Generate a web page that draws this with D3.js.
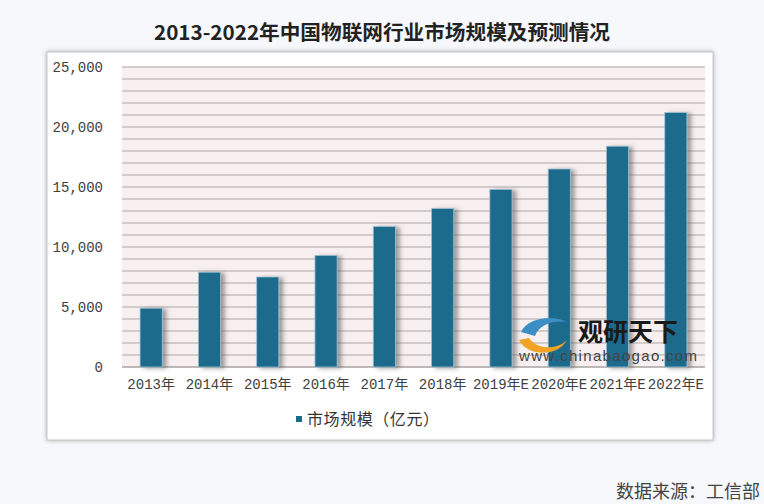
<!DOCTYPE html>
<html>
<head>
<meta charset="utf-8">
<script src="https://cdn.jsdelivr.net/npm/d3@7"></script>
<style>
  html, body { margin: 0; padding: 0; background: #f6f8fb; }
  svg { display: block; }
</style>
</head>
<body>
<div id="chart"></div>
<script>
// Data
const years = ["2013年", "2014年", "2015年", "2016年", "2017年", "2018年", "2019年E", "2020年E", "2021年E", "2022年E"];
const marketSize = [4900, 7900, 7500, 9300, 11700, 13200, 14800, 16500, 18400, 21200];
const yTicks = [0, 5000, 10000, 15000, 20000, 25000];

const W = 764, H = 504;
const margin = { top: 67, right: 59, bottom: 137, left: 122 };
const width = W - margin.left - margin.right;
const height = H - margin.top - margin.bottom;

const svg = d3.select("#chart")
    .append("svg")
    .attr("width", W)
    .attr("height", H);

const defs = svg.append("defs");

// box shadow
const boxShadow = defs.append("filter").attr("id", "boxShadow")
    .attr("x", "-5%").attr("y", "-5%").attr("width", "110%").attr("height", "110%");
boxShadow.append("feDropShadow")
    .attr("dx", 0).attr("dy", 0).attr("stdDeviation", 2)
    .attr("flood-color", "#888").attr("flood-opacity", 0.7);

// bar shadow
const barShadow = defs.append("filter").attr("id", "barShadow")
    .attr("x", "-30%").attr("y", "-10%").attr("width", "180%").attr("height", "120%");
barShadow.append("feDropShadow")
    .attr("dx", 4).attr("dy", 1).attr("stdDeviation", 2)
    .attr("flood-color", "#555").attr("flood-opacity", 0.55);

// Title
svg.append("text")
    .attr("x", 382)
    .attr("y", 40)
    .attr("text-anchor", "middle")
    .style("font-family", "'Noto Sans CJK SC', sans-serif")
    .style("font-size", "20px")
    .style("font-weight", "bold")
    .style("fill", "#222")
    .attr("textLength", 456)
    .attr("lengthAdjust", "spacingAndGlyphs")
    .text("2013-2022年中国物联网行业市场规模及预测情况");

// chart box
svg.append("rect")
    .attr("x", 47).attr("y", 52)
    .attr("width", 666).attr("height", 388)
    .attr("fill", "#fff")
    .attr("stroke", "#c8c8c8")
    .attr("stroke-width", 1)
    .attr("filter", "url(#boxShadow)");

const g = svg.append("g")
    .attr("transform", `translate(${margin.left},${margin.top})`);

// Scales
const x = d3.scaleBand()
    .domain(years)
    .range([0, width])
    .paddingInner(0.62)
    .paddingOuter(0.31);

const y = d3.scaleLinear()
    .domain([0, 25000])
    .range([height, 0]);

// plot background
g.append("rect")
    .attr("x", 0).attr("y", 0)
    .attr("width", width).attr("height", height)
    .attr("fill", "#f8f0f0");

// gridlines every 1000
g.append("g")
    .selectAll("line")
    .data(d3.range(1000, 25001, 1000))
    .join("line")
    .attr("x1", 0)
    .attr("x2", width)
    .attr("y1", d => y(d))
    .attr("y2", d => y(d))
    .attr("stroke", "#c7bebe")
    .attr("stroke-width", 1.6);

// baseline
g.append("line")
    .attr("x1", 0).attr("x2", width)
    .attr("y1", y(0)).attr("y2", y(0))
    .attr("stroke", "#a9a3a3")
    .attr("stroke-width", 1.6);

// Bars
g.append("g")
    .selectAll("rect")
    .data(marketSize)
    .join("rect")
    .attr("x", (d, i) => x(years[i]))
    .attr("y", d => y(d))
    .attr("width", x.bandwidth())
    .attr("height", d => y(0) - y(d))
    .attr("fill", "#1c6a8c")
    .attr("stroke", "#9fc0d3")
    .attr("stroke-width", 0.8)
    .attr("filter", "url(#barShadow)");

// y-axis
const yAxis = g.append("g")
    .call(d3.axisLeft(y).tickValues(yTicks).tickSize(0).tickPadding(19)
        .tickFormat(d => d === 0 ? "0" : d3.format(",")(d)));
yAxis.select(".domain").remove();
yAxis.selectAll("text")
    .style("font-family", "'Liberation Mono', monospace")
    .style("font-size", "14px")
    .style("fill", "#404040");

// x-axis
const xAxis = g.append("g")
    .attr("transform", `translate(0,${height})`)
    .call(d3.axisBottom(x).tickSize(0).tickPadding(12));
xAxis.select(".domain").remove();
xAxis.selectAll("text")
    .style("font-family", "'Liberation Mono', 'Noto Sans CJK SC', monospace")
    .style("font-size", "14px")
    .style("fill", "#404040");

// Legend
svg.append("rect")
    .attr("x", 296).attr("y", 416)
    .attr("width", 6).attr("height", 6)
    .attr("fill", "#1c6a8c");
svg.append("text")
    .attr("x", 307).attr("y", 425)
    .style("font-family", "'Noto Sans CJK SC', sans-serif")
    .style("font-size", "16px")
    .style("fill", "#333")
    .attr("textLength", 132)
    .attr("lengthAdjust", "spacing")
    .text("市场规模（亿元）");

// Watermark
const wm = svg.append("g").attr("transform", "translate(519,316)");
wm.append("path")
    .attr("d", "M2,16 C8,2 34,-2 48,6 C36,4 20,8 16,20 Z")
    .attr("fill", "#3b8fc4");
wm.append("path")
    .attr("d", "M0,24 C8,40 38,42 48,24 C38,34 18,34 10,22 Z")
    .attr("fill", "#f2a325");
wm.append("text")
    .attr("x", 59).attr("y", 25)
    .style("font-family", "'Noto Sans CJK SC', sans-serif")
    .style("font-size", "25px")
    .style("font-weight", "bold")
    .style("fill", "#1a1a1a")
    .text("观研天下");
wm.append("text")
    .attr("x", 0).attr("y", 45)
    .style("font-family", "'Liberation Sans', sans-serif")
    .style("font-size", "15px")
    .style("fill", "#444")
    .attr("textLength", 178)
    .text("www.chinabaogao.com");

// Source
svg.append("text")
    .attr("x", 760).attr("y", 498)
    .attr("text-anchor", "end")
    .style("font-family", "'Noto Sans CJK SC', sans-serif")
    .style("font-size", "18px")
    .style("fill", "#444")
    .text("数据来源：工信部");
</script>
</body>
</html>
